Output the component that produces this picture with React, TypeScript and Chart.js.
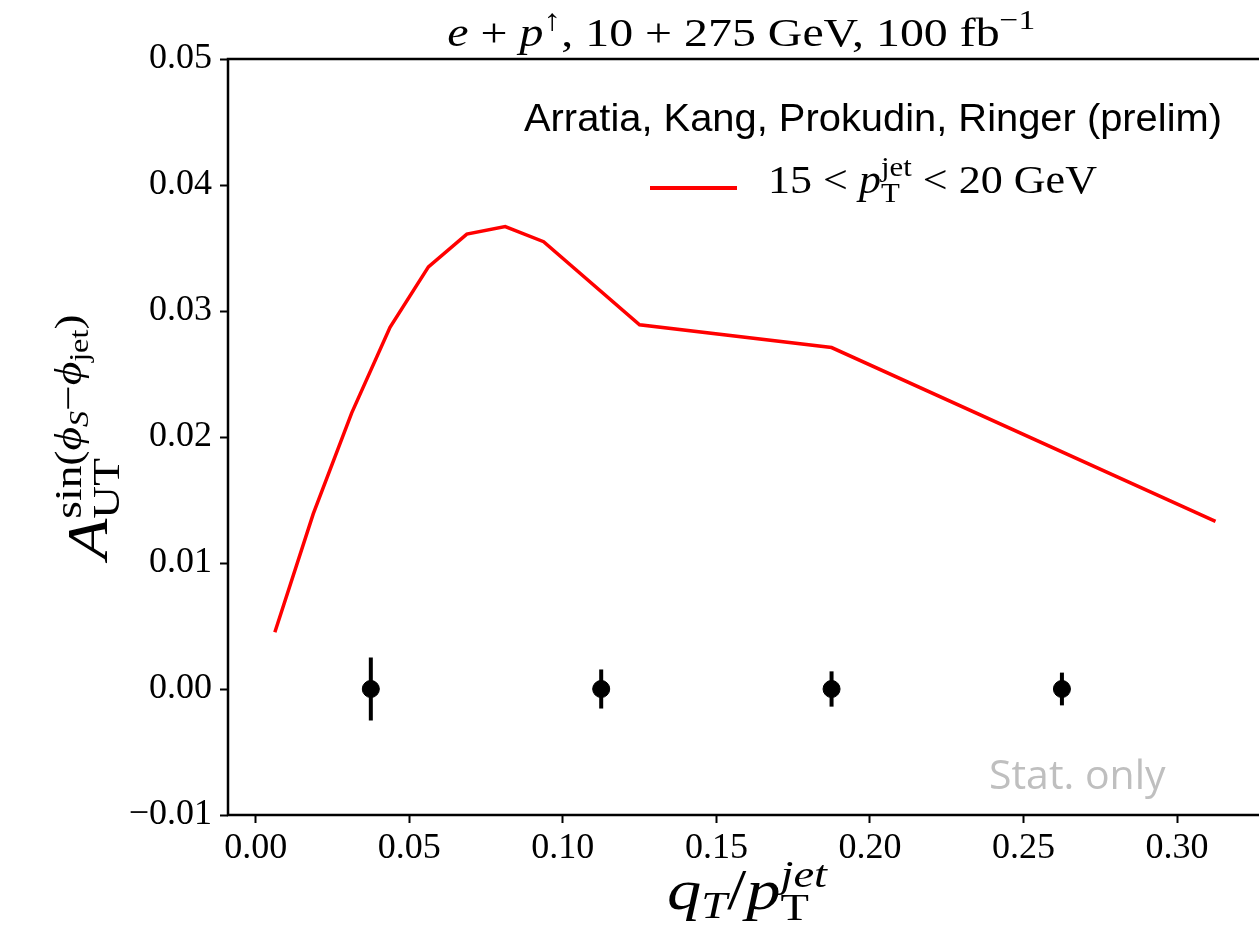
import React, { useEffect, useRef } from "react";
import { Chart, registerables } from "chart.js";
Chart.register(...registerables);

// ---- data ----
const curveX = [0.00625, 0.01875, 0.03125, 0.04375, 0.05625, 0.06875, 0.08125, 0.09375, 0.125, 0.1875, 0.3125];
const curveY = [0.0045, 0.0139, 0.0219, 0.0287, 0.0335, 0.0361, 0.0367, 0.0355, 0.0289, 0.0271, 0.0133];
const pointX = [0.0375, 0.1125, 0.1875, 0.2625];
const pointY = [0, 0, 0, 0];
const pointErr = [0.0025, 0.00155, 0.0014, 0.0013];
const xTicks = [0, 0.05, 0.1, 0.15, 0.2, 0.25, 0.3];
const xTickLabels = ["0.00", "0.05", "0.10", "0.15", "0.20", "0.25", "0.30"];
const yTicks = [-0.01, 0, 0.01, 0.02, 0.03, 0.04, 0.05];
const yTickLabels = ["\u22120.01", "0.00", "0.01", "0.02", "0.03", "0.04", "0.05"];
const legendAuthors = "Arratia, Kang, Prokudin, Ringer (prelim)";
const statText = "Stat. only";

const SERIF = "'Liberation Serif', 'DejaVu Serif', serif";
const SANS = "'Liberation Sans', 'DejaVu Sans', sans-serif";
const VIEW_W = 1259;

type Part = { t: string; size: number; italic?: boolean; dy?: number; family?: string };
type Item = Part | { sup: Part[]; sub: Part[] };

function fontOf(p: Part) {
  return `${p.italic ? "italic " : ""}${p.size}px ${p.family || SERIF}`;
}
function seqWidth(ctx: CanvasRenderingContext2D, parts: Part[]) {
  let w = 0;
  for (const p of parts) {
    ctx.font = fontOf(p);
    w += ctx.measureText(p.t).width;
  }
  return w;
}
function drawSeq(ctx: CanvasRenderingContext2D, parts: Part[], x: number, y: number) {
  let cx = x;
  for (const p of parts) {
    ctx.font = fontOf(p);
    ctx.fillText(p.t, cx, y + (p.dy || 0));
    cx += ctx.measureText(p.t).width;
  }
  return cx;
}
function itemWidth(ctx: CanvasRenderingContext2D, it: Item) {
  if ("sup" in it) return Math.max(seqWidth(ctx, it.sup), seqWidth(ctx, it.sub));
  return seqWidth(ctx, [it]);
}
// draws rich text fitted horizontally to targetW (if given)
function drawRich(ctx: CanvasRenderingContext2D, items: Item[], x: number, y: number, align: string, targetW?: number) {
  let w = 0;
  for (const it of items) w += itemWidth(ctx, it);
  const k = targetW ? targetW / w : 1;
  const W = w * k;
  const left = align === "center" ? x - W / 2 : align === "right" ? x - W : x;
  ctx.save();
  ctx.translate(left, y);
  ctx.scale(k, 1);
  ctx.textAlign = "left";
  ctx.textBaseline = "alphabetic";
  let cx = 0;
  for (const it of items) {
    const iw = itemWidth(ctx, it);
    if ("sup" in it) {
      drawSeq(ctx, it.sup, cx, 0);
      drawSeq(ctx, it.sub, cx, 0);
    } else {
      drawSeq(ctx, [it], cx, 0);
    }
    cx += iw;
  }
  ctx.restore();
}

const decorPlugin = {
  id: "decor",
  beforeDatasetsDraw(chart: any) {
    const ctx = chart.ctx as CanvasRenderingContext2D;
    const xs = chart.scales.x;
    const ys = chart.scales.y;
    ctx.save();
    ctx.strokeStyle = "#000";
    ctx.lineWidth = 4;
    ctx.lineCap = "butt";
    pointX.forEach((px, i) => {
      const X = xs.getPixelForValue(px);
      ctx.beginPath();
      ctx.moveTo(X, ys.getPixelForValue(pointY[i] - pointErr[i]));
      ctx.lineTo(X, ys.getPixelForValue(pointY[i] + pointErr[i]));
      ctx.stroke();
    });
    ctx.restore();
  },
  afterDraw(chart: any) {
    const ctx = chart.ctx as CanvasRenderingContext2D;
    const W = chart.width;
    const xs = chart.scales.x;
    const ys = chart.scales.y;
    const L = Math.round(xs.getPixelForValue(xs.min));
    const R = xs.getPixelForValue(xs.max);
    const T = Math.round(ys.getPixelForValue(ys.max));
    const B = Math.round(ys.getPixelForValue(ys.min));
    ctx.save();
    // spines: left, top, bottom, right (the right one lies just past the visible edge)
    ctx.strokeStyle = "#000";
    ctx.lineWidth = 2.5;
    ctx.lineCap = "square";
    ctx.beginPath();
    ctx.moveTo(L, B);
    ctx.lineTo(L, T);
    ctx.lineTo(R, T);
    ctx.lineTo(R, B);
    ctx.lineTo(L, B);
    ctx.stroke();

    ctx.fillStyle = "#000";
    // title
    drawRich(
      ctx,
      [
        { t: "e", size: 40, italic: true },
        { t: " + ", size: 40 },
        { t: "p", size: 40, italic: true },
        { t: "\u2191", size: 30, dy: -16 },
        { t: ", 10 + 275 GeV, 100 fb", size: 40 },
        { t: "\u22121", size: 28, dy: -17 },
      ],
      (L + R) / 2 - 4,
      46,
      "center",
      588
    );

    // legend header
    ctx.font = `38px ${SANS}`;
    const aw = ctx.measureText(legendAuthors).width;
    ctx.save();
    ctx.translate(1222 - 698, 131);
    ctx.scale(698 / aw, 1);
    ctx.textAlign = "left";
    ctx.textBaseline = "alphabetic";
    ctx.fillText(legendAuthors, 0, 0);
    ctx.restore();

    // legend entry
    const ds = chart.data.datasets[0];
    ctx.strokeStyle = ds.borderColor;
    ctx.lineWidth = 4;
    ctx.lineCap = "butt";
    ctx.beginPath();
    ctx.moveTo(650, 188);
    ctx.lineTo(737, 188);
    ctx.stroke();
    drawRich(
      ctx,
      [
        { t: "15 < ", size: 40 },
        { t: "p", size: 40, italic: true },
        { sup: [{ t: "jet", size: 28, dy: -17 }], sub: [{ t: "T", size: 28, dy: 9 }] },
        { t: " < 20 GeV", size: 40 },
      ],
      768,
      193,
      "left",
      329
    );

    // stat only
    ctx.fillStyle = "#bfbfbf";
    ctx.font = "41px 'Open Sans', sans-serif";
    ctx.textAlign = "left";
    ctx.textBaseline = "alphabetic";
    ctx.fillText(statText, 989, 789);

    // x label
    ctx.fillStyle = "#000";
    drawRich(
      ctx,
      [
        { t: "q", size: 56, italic: true },
        { t: "T", size: 38, italic: true, dy: 9 },
        { t: "/", size: 56 },
        { t: "p", size: 56, italic: true },
        {
          sup: [{ t: "jet", size: 38, italic: true, dy: -22 }],
          sub: [{ t: "T", size: 38, dy: 11 }],
        },
      ],
      747,
      909,
      "center",
      160
    );

    // y label
    ctx.save();
    ctx.translate(107, 437);
    ctx.rotate(-Math.PI / 2);
    drawRich(
      ctx,
      [
        { t: "A", size: 56, italic: true },
        {
          sup: [
            { t: "sin(", size: 38, dy: -26 },
            { t: "\u03D5", size: 38, italic: true, dy: -26 },
            { t: "S", size: 27, italic: true, dy: -19 },
            { t: "\u2212", size: 38, dy: -26 },
            { t: "\u03D5", size: 38, italic: true, dy: -26 },
            { t: "jet", size: 27, dy: -19 },
            { t: ")", size: 38, dy: -26 },
          ],
          sub: [{ t: "UT", size: 38, dy: 12 }],
        },
      ],
      0,
      0,
      "center",
      245
    );
    ctx.restore();
    ctx.restore();
  },
};

export default function App() {
  const ref = useRef<HTMLCanvasElement | null>(null);
  useEffect(() => {
    if (!ref.current) return;
    const chart = new Chart(ref.current, {
      type: "scatter",
      data: {
        datasets: [
          {
            type: "line",
            label: "15 < pT < 20 GeV",
            data: curveX.map((x, i) => ({ x, y: curveY[i] })),
            borderColor: "#ff0000",
            borderWidth: 3.5,
            pointRadius: 0,
            fill: false,
            tension: 0,
          } as any,
          {
            type: "scatter",
            label: "data",
            data: pointX.map((x, i) => ({ x, y: pointY[i] })),
            backgroundColor: "#000",
            borderColor: "#000",
            borderWidth: 1,
            pointRadius: 8.5,
            pointHoverRadius: 8.5,
          },
        ],
      },
      options: {
        animation: false,
        responsive: false,
        devicePixelRatio: 1,
        layout: { padding: { top: 59, right: 0, left: 0, bottom: 0 } },
        plugins: { legend: { display: false }, tooltip: { enabled: false }, title: { display: false } },
        events: [],
        scales: {
          x: {
            type: "linear",
            min: -0.009,
            max: 0.3278,
            afterBuildTicks: (s: any) => {
              s.ticks = xTicks.map((v) => ({ value: v }));
            },
            afterFit: (s: any) => {
              s.height = 121;
            },
            ticks: {
              callback: (_v: any, i: number) => xTickLabels[i],
              color: "#000",
              font: { family: SERIF, size: 36 },
              padding: 4,
              maxRotation: 0,
              autoSkip: false,
            },
            grid: {
              drawOnChartArea: false,
              drawTicks: true,
              tickLength: 8,
              tickWidth: 2,
              color: "#000",
            },
            border: { display: false },
          },
          y: {
            type: "linear",
            min: -0.01,
            max: 0.05,
            afterBuildTicks: (s: any) => {
              s.ticks = yTicks.map((v) => ({ value: v }));
            },
            afterFit: (s: any) => {
              s.width = 228;
            },
            ticks: {
              callback: (_v: any, i: number) => yTickLabels[i],
              color: "#000",
              font: { family: SERIF, size: 36 },
              padding: 8,
              autoSkip: false,
            },
            grid: {
              drawOnChartArea: false,
              drawTicks: true,
              tickLength: 8,
              tickWidth: 2,
              color: "#000",
            },
            border: { display: false },
          },
        },
      },
      plugins: [decorPlugin],
    });
    return () => chart.destroy();
  }, []);
  return (
    <div
      style={{
        position: "absolute",
        left: 0,
        top: 0,
        width: VIEW_W,
        height: 936,
        overflow: "hidden",
        background: "#fff",
      }}
    >
      <canvas ref={ref} width={1272} height={936} style={{ display: "block" }} />
    </div>
  );
}
